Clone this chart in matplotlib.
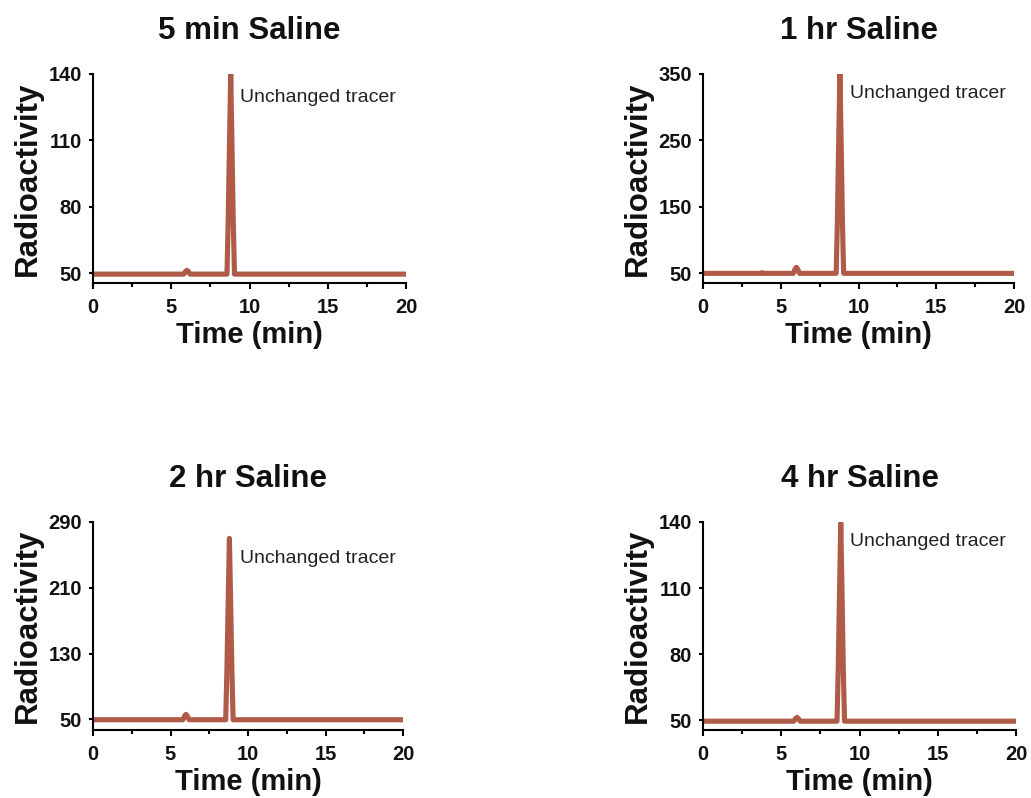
import matplotlib
matplotlib.use("Agg")
import matplotlib.pyplot as plt
from matplotlib.ticker import MultipleLocator

plt.rcParams['font.family'] = ['Liberation Sans', 'DejaVu Sans']

# hand-read trace points (time in min, radioactivity)
times = [0, 3.7, 3.8, 3.9, 5.8, 5.92, 6.0, 6.08, 6.2, 8.56, 8.64, 8.72, 8.8, 8.88, 8.96, 9.04, 20]

trace_5min = [49.5, 49.5, 49.5, 49.5, 49.5, 50.8, 51.2, 50.8, 49.5, 49.5, 74, 108, 140, 108, 74, 49.5, 49.5]
trace_1hr = [49.5, 49.5, 50.5, 49.5, 49.5, 56, 58.5, 56, 49.5, 49.5, 130, 245, 350, 245, 130, 49.5, 49.5]
trace_2hr = [49.5, 49.5, 49.5, 49.5, 49.5, 54, 56, 54, 49.5, 49.5, 110, 192, 270, 192, 110, 49.5, 49.5]
trace_4hr = [49.5, 49.5, 49.5, 49.5, 49.5, 50.8, 51.2, 50.8, 49.5, 49.5, 74, 108, 139.5, 108, 74, 49.5, 49.5]

titles = ['5 min Saline', '1 hr Saline', '2 hr Saline', '4 hr Saline']
traces = [trace_5min, trace_1hr, trace_2hr, trace_4hr]
yticks = [[50, 80, 110, 140], [50, 150, 250, 350], [50, 130, 210, 290], [50, 80, 110, 140]]
ylims = [(45.5, 140), (35, 350), (37, 290), (45.5, 140)]
label_pos = [(9.4, 129.5), (9.45, 321), (9.48, 246), (9.4, 131)]

# axes rectangles in figure fraction
rects = [
    [0.0902, 0.6454, 0.3036, 0.262],
    [0.6819, 0.6454, 0.3017, 0.262],
    [0.0902, 0.0852, 0.3007, 0.2607],
    [0.6819, 0.0852, 0.3036, 0.2607],
]

line_color = '#b05a48'

fig = plt.figure(figsize=(10.31, 7.98), dpi=100)

for i in range(4):
    ax = fig.add_axes(rects[i])
    ax.plot(times, traces[i], color=line_color, lw=3.7, solid_capstyle='round',
            solid_joinstyle='round')
    ax.set_xlim(0, 20)
    ax.set_ylim(*ylims[i])
    ax.set_xticks([0, 5, 10, 15, 20])
    ax.xaxis.set_minor_locator(MultipleLocator(2.5))
    ax.set_yticks(yticks[i])
    ax.spines['top'].set_visible(False)
    ax.spines['right'].set_visible(False)
    for s in ['left', 'bottom']:
        ax.spines[s].set_linewidth(1.5)
    ax.tick_params(which='major', width=1.5, labelsize=14.5)
    ax.tick_params(axis='x', which='major', length=4, pad=7)
    ax.tick_params(axis='y', which='major', length=3, pad=5)
    ax.tick_params(which='minor', length=3, width=1.5)
    for lab in ax.get_xticklabels() + ax.get_yticklabels():
        lab.set_fontweight('bold')
        lab.set_color('#111111')
    ax.set_xlabel('Time (min)', fontsize=21, fontweight='bold', labelpad=3, color='#111111')
    ax.set_ylabel('Radioactivity', fontsize=22.5, fontweight='bold', labelpad=4, color='#111111')
    ax.set_title(titles[i], fontsize=22.5, fontweight='bold', pad=25, color='#111111')
    ax.text(label_pos[i][0], label_pos[i][1], 'Unchanged tracer', fontsize=14,
            va='center', ha='left', color='#222222')

fig.savefig('out.png', dpi=100)
